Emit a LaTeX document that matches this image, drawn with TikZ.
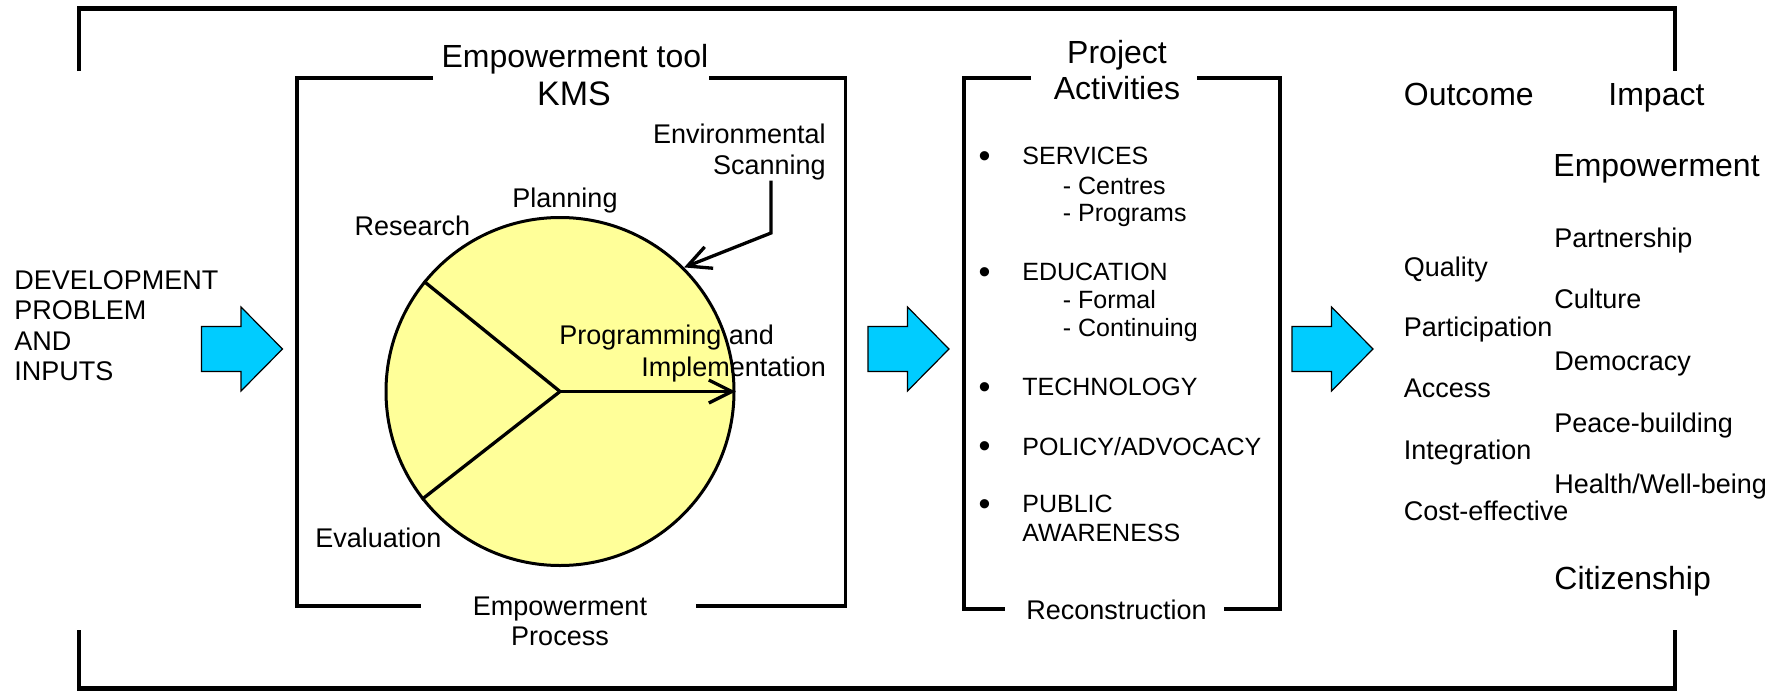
\documentclass[tikz,border=0pt]{standalone}
\usepackage{fontspec}
\setmainfont{Liberation Sans}
\usetikzlibrary{arrows.meta}
\definecolor{kmsyellow}{RGB}{255,255,153}
\definecolor{arrowcyan}{RGB}{0,204,255}
\tikzset{
  t/.style={inner sep=0pt, font=\fontsize{13.5}{16}\selectfont},
  big/.style={inner sep=0pt, font=\fontsize{16}{19}\selectfont},
  lst/.style={inner sep=0pt, font=\fontsize{12.5}{15}\selectfont},
  bul/.style={inner sep=0pt, font=\fontsize{17}{20}\selectfont, anchor=center},
  outerline/.style={line width=2.4pt},
  boxline/.style={line width=1.65pt},
  spoke/.style={line width=1.65pt},
  barb/.style={-{Straight Barb[length=11.5pt,width=11.5pt]}},
  blockarrow/.pic={\draw[fill=arrowcyan, line width=0.6pt, line join=miter]
     (0,-22.5) -- (39.5,-22.5) -- (39.5,-42) -- (81,0) -- (39.5,42) -- (39.5,22.5) -- (0,22.5) -- cycle;}
}
\begin{document}
\begin{tikzpicture}[x=0.5pt,y=-0.5pt]
\useasboundingbox (0,0) rectangle (1779,691);

% outer bracket
\draw[outerline] (79,71) -- (79,8.5) -- (1675,8.5) -- (1675,71);
\draw[outerline] (79,630) -- (79,688.5) -- (1675,688.5) -- (1675,630);

% KMS box
\draw[boxline] (433,78) -- (297,78) -- (297,606) -- (421,606);
\draw[boxline] (709,78) -- (845.5,78) -- (845.5,606) -- (696,606);

% Project activities box
\draw[boxline] (1031,78) -- (964,78) -- (964,609) -- (1005,609);
\draw[boxline] (1197,78) -- (1280,78) -- (1280,609) -- (1224,609);

% block arrows
\pic (ba1) at (201.5,349) {blockarrow};
\pic (ba2) at (868,349) {blockarrow};
\pic (ba3) at (1292,349) {blockarrow};

% circle
\node[circle, draw, fill=kmsyellow, line width=1.5pt, minimum size=174pt, inner sep=0pt] (kms) at (560,391.5) {};
\draw[spoke] (kms.center) -- (kms.141.7);
\draw[spoke] (kms.center) -- (kms.218.5);
\draw[spoke, barb] (kms.center) -- (kms.east);

% left text
\node[t, anchor=base west] (dev1) at (14,289) {DEVELOPMENT};
\node[t, anchor=base west] (dev2) at (14,319.5) {PROBLEM};
\node[t, anchor=base west] (dev3) at (14,350) {AND};
\node[t, anchor=base west] (dev4) at (14,380.5) {INPUTS};

% KMS texts
\node[big, anchor=base] (tool) at (575,67) {Empowerment tool};
\node[inner sep=0pt, font=\fontsize{17}{20}\selectfont, anchor=base] (kmstitle) at (574,105) {KMS};
\node[t, anchor=base east] (env1) at (826,143.5) {Environmental};
\node[t, anchor=base east] (env) at (826,174.5) {Scanning};
\node[t, anchor=base] (plan) at (565,207) {Planning};
\node[t, anchor=base] (res) at (412.5,235.7) {Research};
\node[t, anchor=base west] (prog1) at (559,344) {Programming and};
\node[t, anchor=base west] (prog2) at (641,376) {Implementation};
\node[t, anchor=base west] (eval) at (315,547) {Evaluation};
\node[t, anchor=base] (proc1) at (560,615) {Empowerment};
\node[t, anchor=base] (proc2) at (560,645) {Process};

% environmental scanning arrow
\coordinate (envbend) at (771,233);
\draw[spoke, barb] (env.south -| envbend) -- (envbend) -- (kms.45);

% project activities
\node[big, anchor=base] (proj1) at (1117,63.3) {Project};
\node[big, anchor=base] (proj2) at (1117,99) {Activities};
\foreach \n/\y in {b1/164.7, b2/280.7, b3/395.7, b4/455, b5/512.7}
  \node[bul] (\n) at (984.5,\y-5.5) {\textbullet};
\node[lst, anchor=base west] (serv) at (1022,164.7) {SERVICES};
\node[lst, anchor=base west] (cent) at (1062.5,194) {- Centres};
\node[lst, anchor=base west] (progs) at (1062.5,221.7) {- Programs};
\node[lst, anchor=base west] (edu) at (1022,280.7) {EDUCATION};
\node[lst, anchor=base west] (form) at (1062.5,308.3) {- Formal};
\node[lst, anchor=base west] (cont) at (1062.5,336.7) {- Continuing};
\node[lst, anchor=base west] (tech) at (1022,395.7) {TECHNOLOGY};
\node[lst, anchor=base west] (pol) at (1022,455) {POLICY/ADVOCACY};
\node[lst, anchor=base west] (pub1) at (1022,512.7) {PUBLIC};
\node[lst, anchor=base west] (pub2) at (1022,541.7) {AWARENESS};
\node[t, anchor=base] (recon) at (1116.5,619.3) {Reconstruction};

% outcome / impact
\node[big, anchor=base west] (outc) at (1403.5,105) {Outcome};
\node[big, anchor=base west] (imp) at (1608,105) {Impact};
\node[big, anchor=base west] (empw) at (1553,176) {Empowerment};
\node[t, anchor=base west] (part) at (1554,247.3) {Partnership};
\node[t, anchor=base west] (qual) at (1403.5,276.7) {Quality};
\node[t, anchor=base west] (cult) at (1554,308.3) {Culture};
\node[t, anchor=base west] (parti) at (1403.5,336.7) {Participation};
\node[t, anchor=base west] (demo) at (1554,370.7) {Democracy};
\node[t, anchor=base west] (acc) at (1403.5,397.3) {Access};
\node[t, anchor=base west] (peace) at (1554,432.7) {Peace-building};
\node[t, anchor=base west] (integ) at (1403.5,459.3) {Integration};
\node[t, anchor=base west] (health) at (1554,493.3) {Health/Well-being};
\node[t, anchor=base west] (cost) at (1403.5,520) {Cost-effective};
\node[big, anchor=base west] (citz) at (1554,589.3) {Citizenship};
\end{tikzpicture}
\end{document}
